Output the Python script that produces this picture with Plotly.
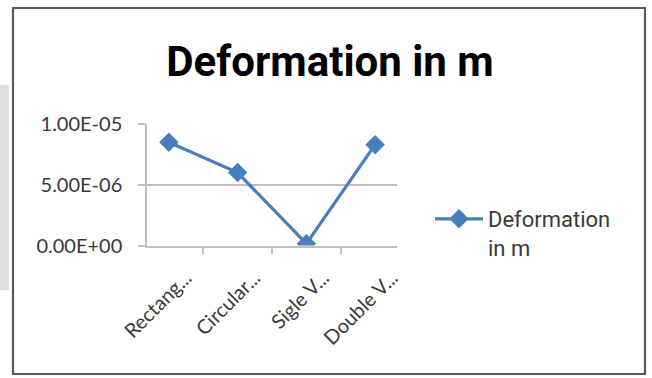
import plotly.graph_objects as go

# Section types and measured deformation (m)
categories = ["Rectang...", "Circular...", "Sigle V...", "Double V..."]
deformation = [8.5e-6, 6.0e-6, 1.5e-7, 8.3e-6]
series_name = "Deformation<br>in m"

y_tick_values = [0, 5e-6, 1e-5]
y_tick_labels = ["0.00E+00", "5.00E-06", "1.00E-05"]

W, H = 652, 378
BLUE = "#4a7ebb"
TEXT = "#3a3a3a"
GRID = "#bfbfbf"
FONT = "Lato"
HEAD_FONT = "Roboto"


def px_x(x):
    return x / W


def px_y(y):
    return 1 - y / H


fig = go.Figure()
fig.add_trace(go.Scatter(
    x=categories,
    y=deformation,
    mode="lines+markers",
    name=series_name,
    line=dict(color=BLUE, width=3.2),
    marker=dict(symbol="diamond", size=15, color=BLUE),
))

fig.update_layout(
    width=W,
    height=H,
    margin=dict(l=0, r=0, t=0, b=0, autoexpand=False),
    paper_bgcolor="white",
    plot_bgcolor="white",
    font=dict(family=FONT, color=TEXT, size=20),
    title=dict(
        text="<b>Deformation in m</b>",
        font=dict(family=HEAD_FONT, size=42, color="#000000"),
        x=px_x(330), xanchor="center",
        y=px_y(61), yanchor="middle",
        automargin=False,
    ),
    xaxis=dict(
        domain=[px_x(147), px_x(397)],
        type="category",
        automargin=False,
        tickangle=-45,
        tickson="boundaries",
        ticks="outside",
        ticklen=7,
        tickcolor=GRID,
        tickwidth=1.5,
        showgrid=False,
        showline=True,
        linecolor=GRID,
        linewidth=1.5,
        ticklabelshift=17,
        ticklabelstandoff=11,
        tickfont=dict(family=FONT, size=20, color=TEXT),
        fixedrange=True,
    ),
    yaxis=dict(
        domain=[px_y(245.5), px_y(124)],
        range=[0, 1e-5],
        automargin=False,
        tickvals=y_tick_values,
        ticktext=y_tick_labels,
        ticks="outside",
        ticklen=7,
        tickcolor=GRID,
        tickwidth=1.5,
        showgrid=True,
        gridcolor=GRID,
        gridwidth=1.5,
        showline=True,
        linecolor=GRID,
        linewidth=1.5,
        zeroline=False,
        ticklabelstandoff=12,
        tickfont=dict(family=FONT, size=20, color=TEXT),
        fixedrange=True,
    ),
    legend=dict(
        x=px_x(430), xanchor="left",
        y=px_y(198), yanchor="top",
        valign="top",
        bgcolor="rgba(0,0,0,0)",
        font=dict(family=HEAD_FONT, size=22, color=TEXT),
        itemwidth=48,
    ),
    showlegend=True,
)

# soft grey page shadow along the left edge
fig.add_shape(
    type="rect", xref="paper", yref="paper",
    x0=0, x1=px_x(9), y0=px_y(290), y1=px_y(85),
    line=dict(width=0),
    fillcolor="#dedede",
    layer="below",
)

# chart frame
fig.add_shape(
    type="rect", xref="paper", yref="paper",
    x0=px_x(13), x1=px_x(645), y0=px_y(374), y1=px_y(8),
    line=dict(color="#5a5a5a", width=2.2),
    fillcolor="rgba(0,0,0,0)",
    layer="below",
)

fig.write_html("out.html")
